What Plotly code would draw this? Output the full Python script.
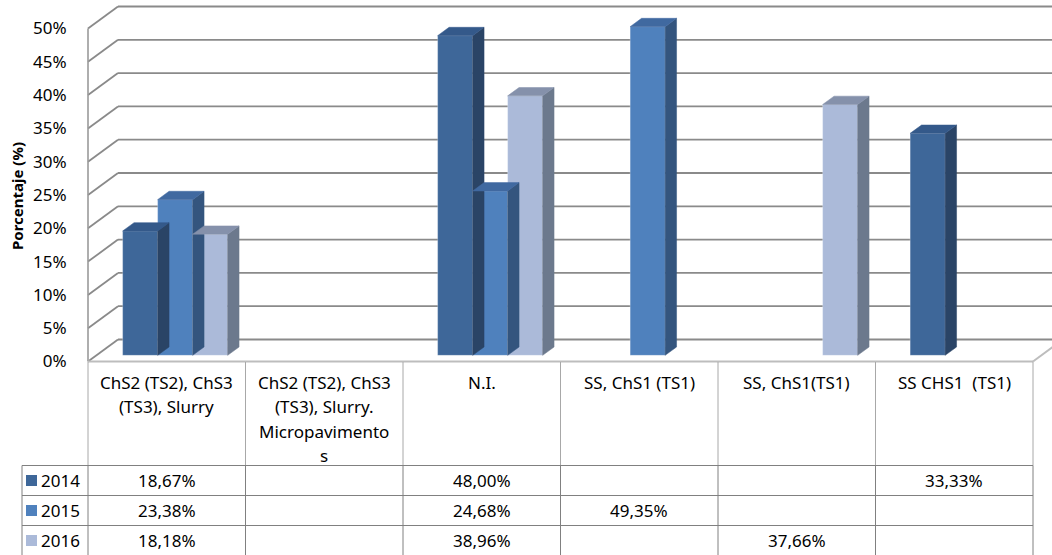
import plotly.graph_objects as go

# ---- data -------------------------------------------------------------
categories = [
    "ChS2 (TS2), ChS3\n(TS3), Slurry",
    "ChS2 (TS2), ChS3\n(TS3), Slurry.\nMicropavimento\ns",
    "N.I.",
    "SS, ChS1 (TS1)",
    "SS, ChS1(TS1)",
    "SS CHS1  (TS1)",
]
years = ["2014", "2015", "2016"]
pct_2014 = [18.67, None, 48.00, None, None, 33.33]
pct_2015 = [23.38, None, 24.68, 49.35, None, None]
pct_2016 = [18.18, None, 38.96, None, 37.66, None]
y_ticks = [0, 5, 10, 15, 20, 25, 30, 35, 40, 45, 50]

series = [pct_2014, pct_2015, pct_2016]

# ---- styling ----------------------------------------------------------
front_col = ["#3e6799", "#4f81bd", "#abbad9"]
side_col = ["#2a4466", "#34557e", "#6c798d"]
top_col = ["#34598a", "#4069a0", "#8591ab"]
FONT = "Noto Sans"
FS = 17

W, H = 1052, 555
COL_PX = 157.5          # pixels per category column
X0_PX = 88              # front-left corner of the floor
Y0_PX = 361.5           # 0 % on the front plane
PCT_PX = 6.66           # pixels per percentage point
DEPTH_X = 30 / COL_PX   # depth offset of the back wall (x units)
DEPTH_Y = 22 / PCT_PX   # depth offset of the back wall (y units)
BAR_W = 35 / COL_PX
D_FRONT = 0.28          # depth of bar front faces
D_THICK = 0.38          # bar thickness in depth
N = len(categories)


def py(p):
    return 1 - p / H


def px_of(xv):
    return (X0_PX + COL_PX * xv) / W


fig = go.Figure()

# side and top faces (drawn first so front faces sit on top)
for i in range(N):
    for k, vals in enumerate(series):
        v = vals[i]
        if v is None:
            continue
        xc = i + 0.5 + (k - 1) * BAR_W + D_FRONT * DEPTH_X
        xl, xr = xc - BAR_W / 2, xc + BAR_W / 2
        b = D_FRONT * DEPTH_Y
        t = v + b
        ddx, ddy = D_THICK * DEPTH_X, D_THICK * DEPTH_Y
        fig.add_trace(go.Scatter(
            x=[xr, xr, xr + ddx, xr + ddx, xr], y=[b, t, t + ddy, b + ddy, b],
            fill="toself", fillcolor=side_col[k], mode="lines",
            line=dict(width=0.5, color=side_col[k]), showlegend=False, hoverinfo="skip"))
        fig.add_trace(go.Scatter(
            x=[xl, xr, xr + ddx, xl + ddx, xl], y=[t, t, t + ddy, t + ddy, t],
            fill="toself", fillcolor=top_col[k], mode="lines",
            line=dict(width=0.5, color=top_col[k]), showlegend=False, hoverinfo="skip"))

# front faces
for k, vals in enumerate(series):
    xs, ys = [], []
    for i, v in enumerate(vals):
        if v is None:
            continue
        xs.append(i + 0.5 + (k - 1) * BAR_W + D_FRONT * DEPTH_X)
        ys.append(v)
    fig.add_trace(go.Bar(
        x=xs, y=ys, base=D_FRONT * DEPTH_Y, width=BAR_W, name=years[k],
        marker=dict(color=front_col[k], line=dict(width=1, color="rgba(255,255,255,0.25)")),
        showlegend=False))

shapes = []
grid = dict(color="#8a8a8a", width=1.8)
for v in y_ticks:
    shapes.append(dict(type="line", xref="x", yref="y", x0=0, y0=v,
                       x1=DEPTH_X, y1=v + DEPTH_Y, line=grid, layer="below"))
    shapes.append(dict(type="line", xref="x", yref="y", x0=DEPTH_X, y0=v + DEPTH_Y,
                       x1=N + 1, y1=v + DEPTH_Y, line=grid, layer="below"))
# front-left edge of the side wall
shapes.append(dict(type="line", xref="x", yref="y", x0=0, y0=0, x1=0, y1=y_ticks[-1],
                   line=dict(color="#9a9a9a", width=1.6), layer="below"))
# floor edges
shapes.append(dict(type="line", xref="x", yref="y", x0=0, y0=0, x1=N, y1=0,
                   line=dict(color="#bdbdbd", width=2), layer="below"))
shapes.append(dict(type="line", xref="x", yref="y", x0=N, y0=0, x1=N + DEPTH_X, y1=DEPTH_Y,
                   line=dict(color="#bdbdbd", width=2), layer="below"))

# data table grid
HEAD_TOP, HEAD_BOT = 362, 465.5
ROW_H = 30
rows_y = [HEAD_BOT + ROW_H * r for r in range(4)]
for i in range(N + 1):
    shapes.append(dict(type="line", xref="paper", yref="paper", x0=px_of(i), x1=px_of(i),
                       y0=py(HEAD_TOP), y1=py(HEAD_BOT), line=dict(color="#a8a8a8", width=1)))
    shapes.append(dict(type="line", xref="paper", yref="paper", x0=px_of(i), x1=px_of(i),
                       y0=py(HEAD_BOT), y1=py(H), line=dict(color="#808080", width=1)))
shapes.append(dict(type="line", xref="paper", yref="paper", x0=22 / W, x1=22 / W,
                   y0=py(HEAD_BOT), y1=py(H), line=dict(color="#808080", width=1)))
for ry in rows_y:
    shapes.append(dict(type="line", xref="paper", yref="paper", x0=22 / W, x1=px_of(N),
                       y0=py(ry), y1=py(ry), line=dict(color="#808080", width=1)))

annotations = []
# category headers
for i, cat in enumerate(categories):
    for j, line in enumerate(cat.split("\n")):
        annotations.append(dict(xref="paper", yref="paper", x=px_of(i + 0.5), y=py(382 + 24.5 * j),
                                text=line, showarrow=False, xanchor="center", yanchor="middle",
                                font=dict(family=FONT, size=FS, color="#000")))
# rows: legend key, year and formatted values
for k, vals in enumerate(series):
    cy = HEAD_BOT + ROW_H * k + ROW_H / 2
    shapes.append(dict(type="rect", xref="paper", yref="paper", x0=26 / W, x1=37 / W,
                       y0=py(cy + 5.5), y1=py(cy - 5.5), fillcolor=front_col[k], line=dict(width=0)))
    annotations.append(dict(xref="paper", yref="paper", x=39 / W, y=py(cy), text=years[k],
                            showarrow=False, xanchor="left", yanchor="middle",
                            font=dict(family=FONT, size=FS, color="#000")))
    for i, v in enumerate(vals):
        if v is None:
            continue
        label = f"{v:.2f}".replace(".", ",") + "%"
        annotations.append(dict(xref="paper", yref="paper", x=px_of(i + 0.5), y=py(cy), text=label,
                                showarrow=False, xanchor="center", yanchor="middle",
                                font=dict(family=FONT, size=FS, color="#000")))

annotations.append(dict(xref="paper", yref="paper", x=17 / W, y=py(196), text="<b>Porcentaje (%)</b>",
                        textangle=-90, showarrow=False, xanchor="center", yanchor="middle",
                        font=dict(family=FONT, size=15, color="#000")))

fig.update_layout(
    width=W, height=H,
    margin=dict(l=0, r=0, t=0, b=0),
    paper_bgcolor="white", plot_bgcolor="white",
    barmode="overlay",
    shapes=shapes, annotations=annotations,
    xaxis=dict(domain=[84 / W, 1], range=[-4 / COL_PX, (W - X0_PX) / COL_PX],
               showgrid=False, zeroline=False, showticklabels=False, showline=False, fixedrange=True),
    yaxis=dict(domain=[0, 1], range=[(Y0_PX - H) / PCT_PX, Y0_PX / PCT_PX],
               tickvals=y_ticks, ticktext=[f"{v}%" for v in y_ticks],
               ticks="outside", ticklen=13, tickcolor="rgba(0,0,0,0)",
               tickfont=dict(family=FONT, size=FS, color="#000"),
               showgrid=False, zeroline=False, showline=False, fixedrange=True),
)

fig.write_html("out.html")
